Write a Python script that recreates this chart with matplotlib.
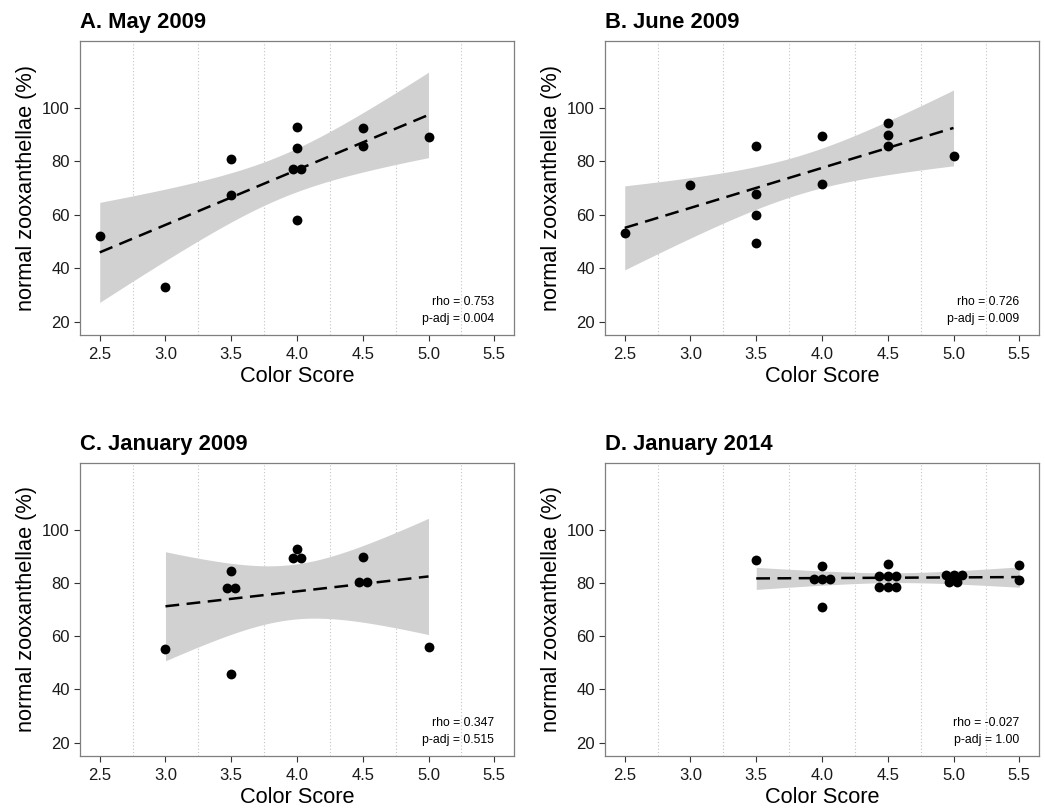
import math
import numpy as np
import matplotlib
matplotlib.use("Agg")
import matplotlib.pyplot as plt

plt.rcParams['font.family'] = ['Liberation Sans', 'DejaVu Sans']

titles = ["A. May 2009", "B. June 2009", "C. January 2009", "D. January 2014"]

# Panel A
a_x = [2.5, 3.0, 3.5, 3.5, 4.0, 4.0, 3.967, 4.033, 4.0, 4.5, 4.5, 5.0]
a_y = [52.0, 33.1, 80.8, 67.2, 92.8, 84.9, 77.2, 77.2, 58.2, 92.3, 85.7, 89.0]
# Panel B
b_x = [2.5, 3.0, 3.5, 3.5, 3.5, 3.5, 4.0, 4.0, 4.5, 4.5, 4.5, 5.0]
b_y = [53.2, 71.2, 85.7, 67.7, 59.8, 49.5, 89.6, 71.6, 94.2, 89.8, 85.9, 82.1]
# Panel C
c_x = [3.0, 3.5, 3.5, 3.468, 3.531, 4.0, 3.967, 4.033, 4.5, 4.468, 4.531, 5.0]
c_y = [55.2, 45.9, 84.4, 77.9, 77.9, 92.8, 89.4, 89.4, 89.6, 80.3, 80.3, 55.8]
# Panel D
d_x = [3.5,
       4.0, 3.937, 4.0, 4.063, 4.0,
       4.5, 4.437, 4.5, 4.563, 4.437, 4.5, 4.563,
       4.942, 5.005, 5.063, 4.967, 5.03,
       5.5, 5.5]
d_y = [88.4,
       86.5, 81.5, 81.5, 81.5, 70.9,
       86.9, 82.7, 82.7, 82.7, 78.6, 78.6, 78.6,
       83.1, 83.1, 83.1, 80.3, 80.3,
       86.8, 80.9]

rho_labels = ["rho = 0.753", "rho = 0.726", "rho = 0.347", "rho = -0.027"]
p_labels = ["p-adj = 0.004", "p-adj = 0.009", "p-adj = 0.515", "p-adj = 1.00"]

xticks = [2.5, 3.0, 3.5, 4.0, 4.5, 5.0, 5.5]
xminor = [2.75, 3.25, 3.75, 4.25, 4.75, 5.25]
yticks = [20, 40, 60, 80, 100]


def t_pdf(t, df):
    c = math.exp(math.lgamma((df + 1) / 2) - math.lgamma(df / 2)) / math.sqrt(df * math.pi)
    return c * (1 + t * t / df) ** (-(df + 1) / 2)


def t_quantile(p, df):
    def cdf(t):
        xs = np.linspace(0, t, 2001)
        ys = np.array([t_pdf(v, df) for v in xs])
        return 0.5 + np.trapezoid(ys, xs)
    lo, hi = 0.0, 10.0
    for _ in range(50):
        mid = (lo + hi) / 2
        if cdf(mid) < p:
            lo = mid
        else:
            hi = mid
    return (lo + hi) / 2


def lm_band(x, y, level=0.95):
    x = np.asarray(x, float)
    y = np.asarray(y, float)
    n = len(x)
    b, a = np.polyfit(x, y, 1)
    resid = y - (a + b * x)
    s = math.sqrt(np.sum(resid ** 2) / (n - 2))
    xm = x.mean()
    sxx = np.sum((x - xm) ** 2)
    xs = np.linspace(x.min(), x.max(), 80)
    fit = a + b * xs
    se = s * np.sqrt(1 / n + (xs - xm) ** 2 / sxx)
    tq = t_quantile(1 - (1 - level) / 2, n - 2)
    return xs, fit, fit - tq * se, fit + tq * se


fig = plt.figure(figsize=(10.45, 8.09), dpi=100)
W, H = 1045, 809
boxes = [(80, 41, 514, 335), (605, 41, 1039, 335),
         (80, 463, 514, 756), (605, 463, 1039, 756)]
data = [(a_x, a_y), (b_x, b_y), (c_x, c_y), (d_x, d_y)]

for i, ((l, t, r, bt), (xv, yv)) in enumerate(zip(boxes, data)):
    ax = fig.add_axes([l / W, 1 - bt / H, (r - l) / W, (bt - t) / H])
    ax.set_xlim(2.35, 5.65)
    ax.set_ylim(15, 125)
    for xm in xminor:
        ax.axvline(xm, color='#c4c4c4', lw=0.8, ls=(0, (1, 2)), zorder=0)
    xs, fit, lo, hi = lm_band(xv, yv)
    ax.fill_between(xs, lo, hi, color='#d1d1d1', lw=0, zorder=1)
    ax.plot(xs, fit, color='black', lw=1.8, ls=(0, (5.5, 3)), zorder=3)
    ax.scatter(xv, yv, s=50, color='black', zorder=4, linewidths=0)
    ax.set_xticks(xticks)
    ax.set_xticklabels([f"{v:.1f}" for v in xticks])
    ax.set_yticks(yticks)
    ax.set_yticklabels([str(v) for v in yticks])
    ax.tick_params(axis='both', length=4.3, width=0.8, color='#333333',
                   labelsize=12, pad=3, labelcolor='#1a1a1a')
    ax.tick_params(axis='x', pad=4)
    for sp in ax.spines.values():
        sp.set_color('#7f7f7f')
        sp.set_linewidth(0.9)
    ax.set_xlabel("Color Score", fontsize=15.7, labelpad=3)
    ax.set_ylabel("normal zooxanthellae (%)", fontsize=15.7, labelpad=4)
    ax.annotate(titles[i], xy=(0, 1), xycoords='axes fraction',
                xytext=(0, 9.5), textcoords='offset points',
                ha='left', va='baseline', fontsize=15.8, fontweight='bold')
    ax.text(5.5, 27.3, rho_labels[i], ha='right', va='center', fontsize=8.8)
    ax.text(5.5, 21.0, p_labels[i], ha='right', va='center', fontsize=8.8)

fig.savefig("out.png", dpi=100)
